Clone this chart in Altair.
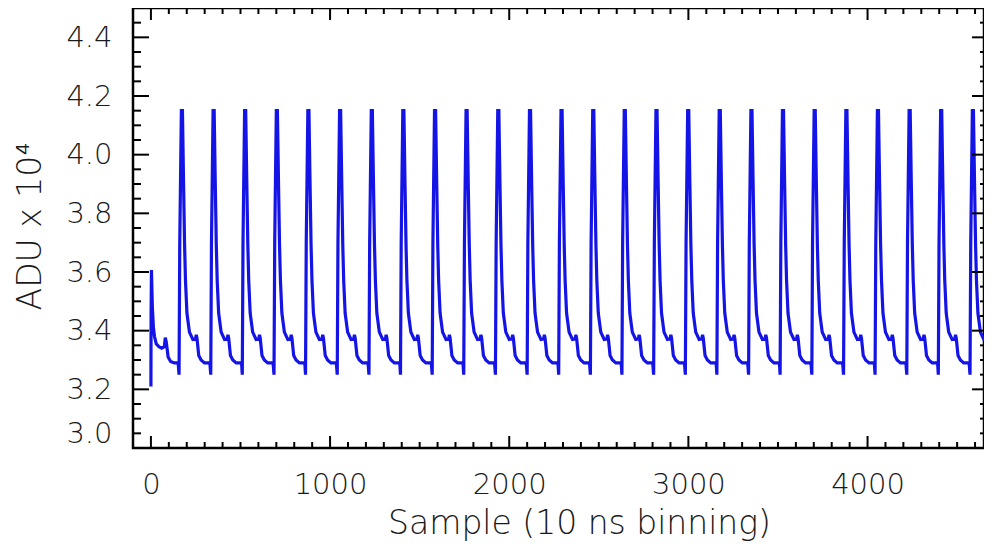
import altair as alt
import pandas as pd

# ---------------- data ----------------
# first (partial) pulse at the start of the record: sample index, ADU (x 1e4)
start_samples = [0, 1, 3, 8, 14, 20, 30, 45, 60, 75, 80, 86, 96, 110, 130, 152]
start_values = [3.21, 3.45, 3.607, 3.48, 3.41, 3.38, 3.355, 3.345, 3.34, 3.345,
                3.376, 3.36, 3.31, 3.295, 3.29, 3.29]

# sample index of the dip that starts each full pulse
pulse_starts = [157, 334, 510, 687, 863, 1040, 1217, 1393, 1570, 1746, 1923, 2100,
                2276, 2453, 2629, 2806, 2983, 3159, 3336, 3512, 3689, 3866, 4042,
                4219, 4395, 4572]

# shape of one pulse: offset from its start (samples) and ADU (x 1e4)
pulse_offsets = [0, 4, 13, 19, 25, 31, 36, 44, 58, 77, 92, 96, 100, 110, 123, 142, 172]
pulse_values = [3.25, 3.70, 4.15, 4.15, 3.91, 3.69, 3.57, 3.46, 3.395, 3.37, 3.372,
                3.386, 3.375, 3.315, 3.30, 3.29, 3.29]

# axis ticks
x_major = [0, 1000, 2000, 3000, 4000]
x_minor = [v for v in range(0, 4700, 100) if v % 1000 != 0]
y_major = [3.0, 3.2, 3.4, 3.6, 3.8, 4.0, 4.2, 4.4]
y_minor = [round(3.0 + 0.05 * i, 2) for i in range(1, 30) if i % 4 != 0]

# ---------------- build table ----------------
rows = [{"sample": s, "adu": v} for s, v in zip(start_samples, start_values)]
for t0 in pulse_starts:
    for off, v in zip(pulse_offsets, pulse_values):
        rows.append({"sample": t0 + off, "adu": v})
df = pd.DataFrame(rows)

W, H = 851, 440
FONT = "DejaVu Sans"
xs = alt.Scale(domain=[-100, 4650], nice=False, zero=False)
ys = alt.Scale(domain=[3.0, 4.5], nice=False, zero=False)

x_axis = alt.Axis(values=x_major, format="d", title="Sample (10 ns binning)",
                  labelPadding=22, titleX=446, titleY=85,
                  titleBaseline="alphabetic", titleAlign="center")
y_axis = alt.Axis(values=y_major, format=".1f", title="ADU x 10⁴",
                  labelPadding=21, labelFlush=True, titleX=-103, titleY=218,
                  titleBaseline="middle", titleAlign="center", titleAngle=270)

line = alt.Chart(df).mark_line(color="#1414e6", strokeWidth=3.2, clip=True).encode(
    x=alt.X("sample:Q", scale=xs, axis=x_axis),
    y=alt.Y("adu:Q", scale=ys, axis=y_axis),
)

tick_style = dict(color="black", strokeWidth=2)
xmaj = pd.DataFrame({"sample": x_major})
xmin = pd.DataFrame({"sample": x_minor})
ymaj = pd.DataFrame({"adu": y_major})
ymin = pd.DataFrame({"adu": y_minor})

def xtick(data, y0, y1):
    return alt.Chart(data).mark_rule(**tick_style).encode(
        x=alt.X("sample:Q", scale=xs, axis=x_axis), y=alt.value(y0), y2=alt.value(y1))

def ytick(data, x0, x1):
    return alt.Chart(data).mark_rule(**tick_style).encode(
        y=alt.Y("adu:Q", scale=ys, axis=y_axis), x=alt.value(x0), x2=alt.value(x1))

ticks = [
    xtick(xmaj, H, H - 12), xtick(xmin, H, H - 6),
    xtick(xmaj, 0, 12), xtick(xmin, 0, 6),
    ytick(ymaj, 0, 16), ytick(ymin, 0, 8),
    ytick(ymaj, W, W - 12), ytick(ymin, W, W - 4),
]

chart = alt.layer(line, *ticks).properties(
    width=W, height=H,
    autosize=alt.AutoSizeParams(type="none"),
    padding={"left": 125, "top": 0, "right": 0, "bottom": 94},
).configure_view(
    stroke="black", strokeWidth=2.5
).configure_axis(
    domain=False, ticks=False, grid=False,
    labelFont=FONT, labelFontSize=29, labelColor="#1a1a1a", labelFontWeight=300,
    titleFont=FONT, titleFontSize=33, titleColor="#1a1a1a", titleFontWeight=300,
)

chart.save("out.html", embed_options={"renderer": "svg", "actions": False})
